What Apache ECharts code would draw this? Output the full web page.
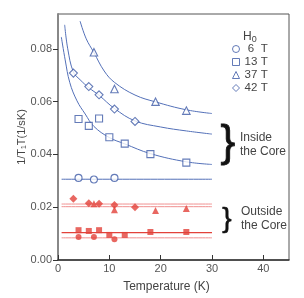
<!DOCTYPE html>
<html><head><meta charset="utf-8">
<script src="https://cdn.jsdelivr.net/npm/echarts@6/dist/echarts.min.js"></script>
<style>html,body{margin:0;padding:0;background:#fff}#c{width:304px;height:298px}</style>
</head><body><div id="c"></div>
<script>
// Inside the core (blue, hollow)
const in6T  = [[4,0.0311],[7,0.0305],[11,0.0311]];
const in13T = [[4,0.0534],[6,0.0508],[8,0.0536],[10,0.0465],[13,0.0441],[18,0.0401],[25,0.0369]];
const in37T = [[7,0.0787],[11,0.0648],[19,0.0600],[25,0.0566]];
const in42T = [[3,0.0708],[6,0.0657],[8,0.0626],[11,0.0572],[15,0.0525]];
// fit curves
const fit13T = [[0.65,0.0845],[1.4,0.0758],[2.3,0.0672],[3.7,0.0603],[5.3,0.0553],[7,0.0506],[10,0.0464],[13,0.0440],[18,0.0403],[25,0.0372],[30,0.0362]];
const fit42T = [[1.3,0.0891],[1.9,0.0800],[3,0.0712],[4.3,0.0683],[6,0.0653],[8,0.0624],[11,0.0574],[15,0.0527],[20,0.0504],[25,0.0489],[30,0.0477]];
const fit37T = [[4.3,0.0905],[5.5,0.0838],[7,0.0786],[9,0.0716],[11,0.0673],[15,0.0625],[19,0.0599],[25,0.0569],[30,0.0555]];
const fit6T  = [[0.7,0.0306],[30,0.0306]];
// Outside the core (red, filled)
const out6T  = [[4,0.0087],[7,0.0087],[11,0.0079]];
const out13T = [[4,0.0113],[6,0.0110],[8,0.0113],[10,0.0095],[13,0.0095],[18,0.0106],[25,0.0106]];
const out37T = [[7,0.0213],[11,0.0190],[19,0.0188],[25,0.0195]];
const out42T = [[3,0.0232],[6,0.0215],[8,0.0213],[11,0.0208],[15,0.0200]];
const outLineA = [[0.7,0.0212],[30,0.0212]];
const outLineB = [[0.7,0.0202],[30,0.0202]];
const outLineC = [[0.7,0.0104],[30,0.0104]];
const outLineD = [[0.7,0.0084],[30,0.0084]];
const legendNames = ['6','13','37','42'];
const xTicks = [0,10,20,30,40];
const yTicks = [0,0.02,0.04,0.06,0.08];

const BLUE = '#3d5aa6', BLUEL = '#5370b8', RED = '#e2413a', REDL = '#f09090';
const FONT = 'Liberation Sans';
const chart = echarts.init(document.getElementById('c'), null, {renderer:'canvas'});

function hollow(name, data, sym, size){
  return {type:'scatter', name:name+' T', data, symbol:sym, symbolSize:size||7, z:5,
    itemStyle:{color:'#fff', borderColor:BLUE, borderWidth:1.1}};
}
function filled(data, sym, size){
  return {type:'scatter', data, symbol:sym, symbolSize:size||6, z:5, itemStyle:{color:RED}};
}
function line(data, color, w){
  return {type:'line', data, showSymbol:false, smooth:0.4, silent:true, z:3,
    lineStyle:{color, width:w||1}};
}

chart.setOption({
  animation:false,
  textStyle:{fontFamily:FONT},
  grid:{left:58, right:15, top:14, bottom:38, show:true, borderColor:'#555', borderWidth:1},
  legend:{
    data:legendNames.map(n=>n+' T'), orient:'vertical', left:227, top:38,
    itemWidth:7, itemHeight:7, itemGap:1,
    itemStyle:{color:'#fff', borderColor:BLUE, borderWidth:1},
    formatter:function(n){return '{n|'+n.replace(' T','')+'} T';},
    textStyle:{fontFamily:FONT, fontSize:11.5, color:'#444', lineHeight:11,
      rich:{n:{width:13, align:'right', fontSize:11.5, color:'#444', fontFamily:FONT}}}
  },
  xAxis:{
    type:'value', min:0, max:45, interval:10,
    name:'Temperature (K)', nameLocation:'middle', nameGap:21,
    nameTextStyle:{fontSize:12, color:'#444', padding:[0,14,0,0]},
    axisLine:{show:true, lineStyle:{color:'#333', width:1.5}},
    axisTick:{show:true, inside:true, length:5, lineStyle:{color:'#333'}},
    axisLabel:{fontSize:11, color:'#555', margin:3, showMaxLabel:false,
      formatter:v=>xTicks.includes(v)?String(v):''},
    splitLine:{show:false}
  },
  yAxis:{
    type:'value', min:0, max:0.0932, interval:0.02,
    name:'1/T\u2081T(1/sK)', nameLocation:'middle', nameGap:31, nameMoveOverlap:false,
    nameTextStyle:{fontSize:11, color:'#444'},
    axisLine:{show:true, lineStyle:{color:'#888', width:2}},
    axisTick:{show:true, inside:false, length:5, lineStyle:{color:'#333'}},
    axisLabel:{fontSize:11, color:'#555', margin:6, showMaxLabel:false,
      formatter:v=>yTicks.some(t=>Math.abs(t-v)<1e-9)?v.toFixed(2):''},
    splitLine:{show:false}
  },
  graphic:[
    {type:'text', left:243, top:31, style:{text:'H{s|0}', fontFamily:FONT, fontSize:12, fill:'#444',
      rich:{s:{fontSize:9, fill:'#444', fontFamily:FONT, padding:[6,0,0,0]}}}},
    {type:'text', left:220, top:121, style:{text:'}', fontFamily:FONT, fontSize:44, fill:'#111', stroke:'#111', lineWidth:0.8}},
    {type:'text', left:240, top:131, style:{text:'Inside\nthe Core', fontFamily:FONT, fontSize:12, lineHeight:14, fill:'#444'}},
    {type:'text', left:222, top:205, style:{text:'}', fontFamily:FONT, fontSize:28, fill:'#111', stroke:'#111', lineWidth:0.6}},
    {type:'text', left:241, top:205, style:{text:'Outside\nthe Core', fontFamily:FONT, fontSize:12, lineHeight:14, fill:'#444'}}
  ],
  series:[
    line(fit13T, BLUEL), line(fit42T, BLUEL), line(fit37T, BLUEL), line(fit6T, BLUEL),
    line(outLineA, REDL), line(outLineB, REDL), line(outLineC, RED, 1.2), line(outLineD, REDL),
    hollow('6', in6T, 'circle', 7),
    hollow('13', in13T, 'rect', 7),
    hollow('37', in37T, 'triangle', 7.5),
    hollow('42', in42T, 'diamond', 8),
    filled(out6T, 'circle', 6), filled(out13T, 'rect', 6), filled(out37T, 'triangle', 7), filled(out42T, 'diamond', 8)
  ]
});
</script></body></html>
